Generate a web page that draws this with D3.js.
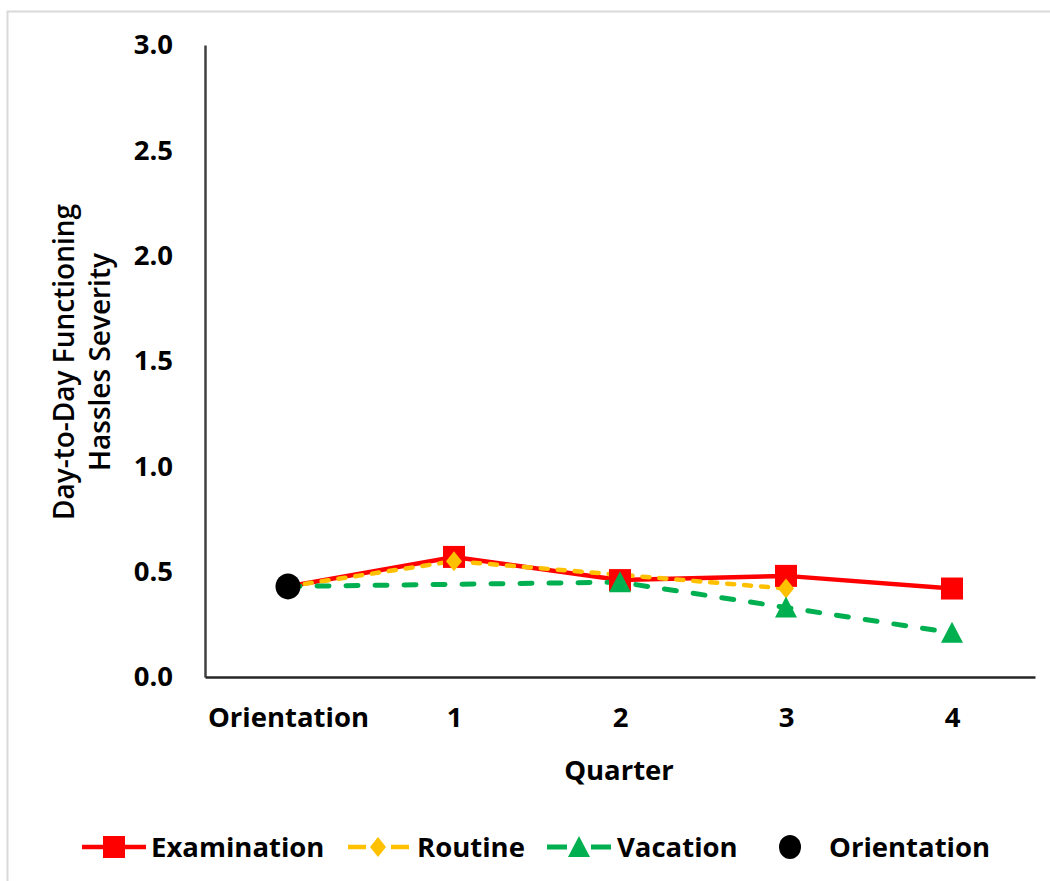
<!DOCTYPE html>
<html><head><meta charset="utf-8">
<script src="https://cdn.jsdelivr.net/npm/d3@7"></script>
<style>
html,body{margin:0;padding:0;background:#fff;}
text{font-family:"Open Sans",sans-serif;fill:#000;}
</style></head>
<body>
<svg id="chart" width="1050" height="881"></svg>
<script>
const categories = ["Orientation", "1", "2", "3", "4"];
const yTicks = [0, 0.5, 1.0, 1.5, 2.0, 2.5, 3.0];
const examination = [0.43, 0.57, 0.46, 0.48, 0.42];
const routine = [0.43, 0.55, null, 0.42, null];
const vacation = [0.43, null, 0.45, 0.33, 0.21];
const orientation = [0.43, null, null, null, null];
const seriesNames = ["Examination", "Routine", "Vacation", "Orientation"];

const svg = d3.select("#chart");
// outer border
svg.append("rect").attr("x", 7.5).attr("y", 11.5).attr("width", 1100).attr("height", 1000)
  .attr("fill", "none").attr("stroke", "#d9d9d9").attr("stroke-width", 2);

const FS = 27.5;
const plotL = 205, plotR = 1035, plotT = 45, plotB = 677;
const x = d3.scalePoint().domain(categories).range([plotL, plotR]).padding(0.5);
const y = d3.scaleLinear().domain([0, 3]).range([plotB, plotT]);

// axes
const yAxis = svg.append("g").attr("transform", `translate(${plotL},0)`)
  .call(d3.axisLeft(y).tickValues(yTicks).tickFormat(d3.format(".1f")).tickSize(0).tickPadding(32));
yAxis.select(".domain").attr("stroke", "#404040").attr("stroke-width", 2.5);
yAxis.selectAll("text").attr("font-size", FS).attr("font-weight", 700).attr("font-family", "Open Sans");

const xAxis = svg.append("g").attr("transform", `translate(0,${plotB})`)
  .call(d3.axisBottom(x).tickSize(0).tickPadding(30));
xAxis.select(".domain").attr("stroke", "#262626").attr("stroke-width", 2.5);
xAxis.selectAll("text").attr("font-size", FS).attr("font-weight", 700).attr("font-family", "Open Sans");

// axis titles
svg.append("text").attr("x", 619).attr("y", 770).attr("dy", "0.35em").attr("text-anchor", "middle")
  .attr("font-size", FS).attr("font-weight", 700).text("Quarter");
const yt = svg.append("text").attr("transform", "translate(64,362) rotate(-90)")
  .attr("text-anchor", "middle").attr("font-size", 28).attr("font-weight", 600);
yt.append("tspan").attr("x", 0).attr("dy", "0.35em").text("Day-to-Day Functioning");
yt.append("tspan").attr("x", 0).attr("dy", "1.3em").text("Hassles Severity");

function pts(arr) {
  return arr.map((v, i) => ({c: categories[i], v})).filter(d => d.v !== null);
}
const line = d3.line().x(d => x(d.c)).y(d => y(d.v));

const red = "#ff0000", orange = "#ffc000", green = "#00b050";

svg.append("path").datum(pts(examination)).attr("d", line)
  .attr("fill", "none").attr("stroke", red).attr("stroke-width", 4.5);
svg.append("path").datum(pts(routine)).attr("d", line)
  .attr("fill", "none").attr("stroke", orange).attr("stroke-width", 4.5)
  .attr("stroke-dasharray", "7,10").attr("stroke-linecap", "round");
svg.append("path").datum(pts(vacation)).attr("d", line)
  .attr("fill", "none").attr("stroke", green).attr("stroke-width", 5)
  .attr("stroke-dasharray", "12,17").attr("stroke-linecap", "round");

const sq = d3.symbol().type(d3.symbolSquare).size(22 * 22);
const diamondPath = "M0,-10L8,0L0,10L-8,0Z";
const triPath = "M0,-11L11,10L-11,10Z";

// examination markers (skip orientation point)
svg.append("g").selectAll("path").data(pts(examination).slice(1)).join("path")
  .attr("d", sq).attr("transform", d => `translate(${x(d.c)},${y(d.v)})`).attr("fill", red);
// routine diamonds
svg.append("g").selectAll("path").data(pts(routine).slice(1)).join("path")
  .attr("d", diamondPath).attr("transform", d => `translate(${x(d.c)},${y(d.v)})`).attr("fill", orange);
// vacation triangles
svg.append("g").selectAll("path").data(pts(vacation).slice(1)).join("path")
  .attr("d", triPath).attr("transform", d => `translate(${x(d.c)},${y(d.v)})`).attr("fill", green);
// orientation circle
svg.append("g").selectAll("ellipse").data(pts(orientation)).join("ellipse")
  .attr("cx", d => x(d.c)).attr("cy", d => y(d.v)).attr("rx", 12.5).attr("ry", 13).attr("fill", "#000");

// legend
const ly = 847;
const lg = svg.append("g");
function legText(xp, t) {
  lg.append("text").attr("x", xp).attr("y", ly).attr("dy", "0.35em").attr("font-size", FS).attr("font-weight", 700).text(t);
}
// Examination
lg.append("line").attr("x1", 82).attr("x2", 146).attr("y1", ly).attr("y2", ly).attr("stroke", red).attr("stroke-width", 4.5);
lg.append("path").attr("d", sq).attr("transform", `translate(114,${ly})`).attr("fill", red);
legText(151, seriesNames[0]);
// Routine
lg.append("line").attr("x1", 348).attr("x2", 409).attr("y1", ly).attr("y2", ly).attr("stroke", orange).attr("stroke-width", 4.5)
  .attr("stroke-dasharray", "18,25");
lg.append("path").attr("d", diamondPath).attr("transform", `translate(378,${ly})`).attr("fill", orange);
legText(417, seriesNames[1]);
// Vacation
lg.append("line").attr("x1", 547).attr("x2", 611).attr("y1", ly).attr("y2", ly).attr("stroke", green).attr("stroke-width", 5)
  .attr("stroke-dasharray", "20,24");
lg.append("path").attr("d", triPath).attr("transform", `translate(579,${ly})`).attr("fill", green);
legText(617, seriesNames[2]);
// Orientation
lg.append("ellipse").attr("cx", 790).attr("cy", ly).attr("rx", 11).attr("ry", 12).attr("fill", "#000");
legText(829, seriesNames[3]);
</script>
</body></html>
